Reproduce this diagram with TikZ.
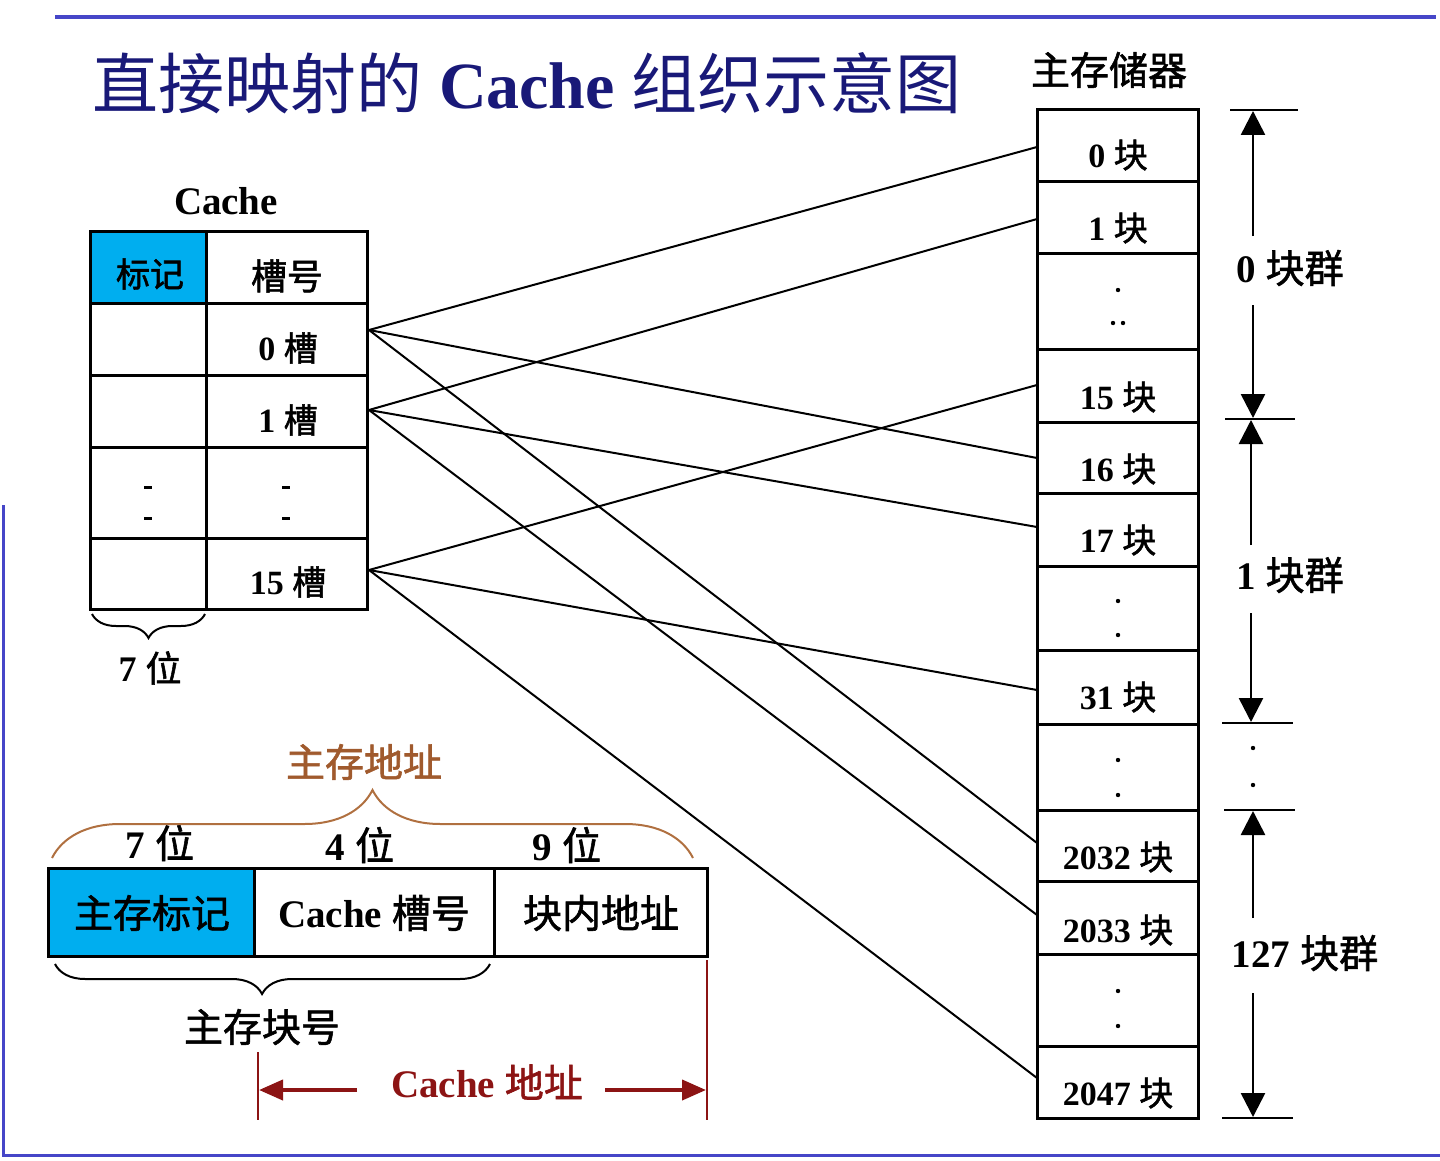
\documentclass[tikz,border=0pt]{standalone}
\usepackage{fontspec}
\setmainfont{Liberation Serif}
\newfontfamily\zhfont{Noto Sans CJK SC}[AutoFakeBold=1.5]
\usetikzlibrary{arrows.meta,decorations.pathreplacing}
\definecolor{frameblue}{RGB}{70,70,200}
\definecolor{titlenavy}{RGB}{25,25,120}
\definecolor{tagblue}{RGB}{0,174,239}
\definecolor{bracebrown}{RGB}{176,112,64}
\definecolor{textbrown}{RGB}{160,90,45}
\definecolor{darkred}{RGB}{140,20,20}
\newcommand\zh[1]{{\zhfont #1}}
\begin{document}
\begin{tikzpicture}[x=0.5pt,y=-0.5pt,
  cell/.style={draw=black,line width=1.5pt},
  conn/.style={draw=black,line width=1pt},
  lbl/.style={inner sep=0pt,font=\fontsize{17}{20}\selectfont\bfseries},
  big/.style={inner sep=0pt,font=\fontsize{19.5}{23}\selectfont\bfseries},
  tick/.style={draw=black,line width=1.2pt},
  grparrow/.style={draw=black,line width=1.3pt,-{Triangle[length=12pt,width=12pt]}},
  redarrow/.style={draw=darkred,line width=2pt,-{Triangle[length=12pt,width=10pt]}},
  dotmark/.style={fill=black},
]
\useasboundingbox (0,0) rectangle (1440,1161);
% frame lines
\draw[frameblue,line width=2pt] (55,17) -- (1436,17);
\draw[frameblue,line width=1.5pt] (3,505) -- (3,1155) -- (1440,1155);

% title
\node[inner sep=0pt,text=titlenavy,font=\fontsize{33}{38}\selectfont] (title) at (527,83)
  {\zh{直接映射的} \textbf{Cache} \zh{组织示意图}};
\node[big] (mmtitle) at (1109,70) {\zh{主存储器}};

% ---------- Cache table ----------
\fill[tagblue] (90,231) rectangle (206,303);
\draw[cell] (90,231) rectangle (367,609);
\draw[cell] (206,231) -- (206,609);
\foreach \yy in {303,375,447,538} \draw[cell] (90,\yy) -- (367,\yy);
\node[big] (cachetitle) at (226,201) {Cache};
\node[lbl] (tag) at (150,274) {\zh{标记}};
\node[lbl,font=\fontsize{18}{21}\selectfont\bfseries] (slotno) at (287,276) {\zh{槽号}};
\node[lbl] (s0t) at (288,348) {0 \zh{槽}};
\node[lbl] (s1t) at (288,420) {1 \zh{槽}};
\node[lbl] (s15t) at (288,582) {15 \zh{槽}};
\foreach \xx in {148,286} \foreach \yy in {487,518}
  \draw[line width=1.5pt] (\xx-4,\yy) -- (\xx+4,\yy);
\draw[line width=1pt,decorate,decoration={brace,mirror,amplitude=12pt}] (92,614) -- (205,614);
\node[lbl,font=\fontsize{18}{21}\selectfont\bfseries] (tag7) at (150,668) {7 \zh{位}};

% ---------- Main memory ----------
\draw[cell] (1037,110) rectangle (1198,1118);
\foreach \yy in {181,253,349,422,493,566,650,724,810,881,954,1046}
  \draw[cell] (1037,\yy) -- (1198,\yy);
\node[lbl] (b0) at (1118,155) {0 \zh{块}};
\node[lbl] (b1) at (1118,228) {1 \zh{块}};
\node[lbl] (b15) at (1118,397) {15 \zh{块}};
\node[lbl] (b16) at (1118,469) {16 \zh{块}};
\node[lbl] (b17) at (1118,540) {17 \zh{块}};
\node[lbl] (b31) at (1118,697) {31 \zh{块}};
\node[lbl] (b2032) at (1118,857) {2032 \zh{块}};
\node[lbl] (b2033) at (1118,930) {2033 \zh{块}};
\node[lbl] (b2047) at (1118,1093) {2047 \zh{块}};
\foreach \pp in {(1118,290),(1113,323),(1123,323),(1118,601),(1118,635),(1118,760),(1118,795),(1118,991),(1118,1026),(1253,748),(1253,785)}
  \fill[dotmark] \pp circle (2.2);

% group markers
\draw[tick] (1230,110) -- (1298,110);
\draw[tick] (1225,419) -- (1295,419);
\draw[tick] (1222,723) -- (1293,723);
\draw[tick] (1224,810) -- (1295,810);
\draw[tick] (1222,1118) -- (1293,1118);
\node[big] (g0) at (1290,268) {0 \zh{块群}};
\node[big] (g1) at (1290,575) {1 \zh{块群}};
\node[big] (g127) at (1305,953) {127 \zh{块群}};
\coordinate (g0u) at (1253,236); \coordinate (g0t) at (1253,111);
\coordinate (g0d) at (1253,305); \coordinate (g0b) at (1253,418);
\coordinate (g1u) at (1251,545); \coordinate (g1t) at (1251,420);
\coordinate (g1d) at (1251,613); \coordinate (g1b) at (1251,722);
\coordinate (g2u) at (1253,918); \coordinate (g2t) at (1253,811);
\coordinate (g2d) at (1253,993); \coordinate (g2b) at (1253,1117);
\draw[grparrow] (g0u) -- (g0t);
\draw[grparrow] (g0d) -- (g0b);
\draw[grparrow] (g1u) -- (g1t);
\draw[grparrow] (g1d) -- (g1b);
\draw[grparrow] (g2u) -- (g2t);
\draw[grparrow] (g2d) -- (g2b);

% ---------- connectors ----------
\coordinate (c0) at (369,330);
\coordinate (c1) at (369,410);
\coordinate (c15) at (369,570);
\coordinate (m0) at (1037,147);
\coordinate (m1) at (1037,219);
\coordinate (m15) at (1037,385);
\coordinate (m16) at (1037,458);
\coordinate (m17) at (1037,527);
\coordinate (m31) at (1037,690);
\coordinate (m2032) at (1037,843);
\coordinate (m2033) at (1037,915);
\coordinate (m2047) at (1037,1078);
\draw[conn] (c0) -- (m0);
\draw[conn] (c0) -- (m16);
\draw[conn] (c0) -- (m2032);
\draw[conn] (c1) -- (m1);
\draw[conn] (c1) -- (m17);
\draw[conn] (c1) -- (m2033);
\draw[conn] (c15) -- (m15);
\draw[conn] (c15) -- (m31);
\draw[conn] (c15) -- (m2047);

% ---------- address format ----------
\fill[tagblue] (48,868) rectangle (254,956);
\draw[cell] (48,868) rectangle (707,956);
\draw[cell] (254,868) -- (254,956);
\draw[cell] (494,868) -- (494,956);
\node[big] (ftag) at (152,913) {\zh{主存标记}};
\node[big] (fslot) at (374,913) {Cache \zh{槽号}};
\node[big] (foff) at (601,913) {\zh{块内地址}};
\node[big] (bits7) at (160,843) {7 \zh{位}};
\node[big] (bits4) at (360,845) {4 \zh{位}};
\node[big] (bits9) at (567,845) {9 \zh{位}};
\draw[bracebrown,line width=1pt,decorate,decoration={brace,amplitude=34pt}] (52,858) -- (693,858);
\node[big,text=textbrown] (maddr) at (364,762) {\zh{主存地址}};
\draw[line width=1pt,decorate,decoration={brace,mirror,amplitude=15pt,aspect=0.476}] (55,964) -- (490,964);
\node[big] (blockno) at (262,1027) {\zh{主存块号}};

% cache address
\draw[darkred,line width=1pt] (258,1052) -- (258,1120);
\draw[darkred,line width=1pt] (707,960) -- (707,1120);
\node[big,text=darkred] (caddr) at (487,1082) {Cache \zh{地址}};
\coordinate (ca1) at (357,1090); \coordinate (ca1e) at (259,1090);
\coordinate (ca2) at (605,1090); \coordinate (ca2e) at (706,1090);
\draw[redarrow] (ca1) -- (ca1e);
\draw[redarrow] (ca2) -- (ca2e);
\end{tikzpicture}
\end{document}
